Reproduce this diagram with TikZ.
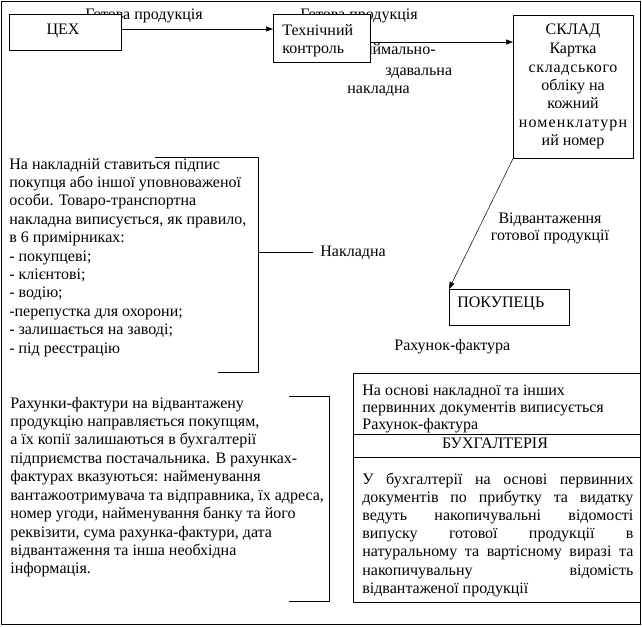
\documentclass[tikz,border=0pt]{standalone}
\usepackage{fontspec}
\setmainfont{Liberation Serif}
\newfontfamily\tnr{Liberation Serif}
\newfontfamily\tnrspa[LetterSpace=4.5]{Liberation Serif}
\newfontfamily\tnrspb[LetterSpace=7]{Liberation Serif}
\usetikzlibrary{arrows.meta}
\newcommand\myfs{\tnr\fontsize{16}{18}\selectfont}
\begin{document}
\begin{tikzpicture}[x=1pt,y=-1pt,line width=0.7pt,
  txt/.style={inner sep=0pt,anchor=base west,font=\myfs},
  txtc/.style={inner sep=0pt,anchor=base,font=\myfs},
  txte/.style={inner sep=0pt,anchor=base east,font=\myfs},
  box/.style={draw,fill=white,inner sep=0pt},
  arr/.style={-{Triangle[length=7pt,width=5pt]}}]
\useasboundingbox (0,0) rectangle (642,626);
\draw (1,1) rectangle (640,624);
% labels behind boxes
\node[txte] (gp1) at (203,20) {Готова продукція};
\node[txte] (gp2) at (418,20) {Готова продукція};
\node[txte] (pz1) at (436,55) {Приймально-};
\node[txt] (pz2) at (385,75) {здавальна};
\node[txt] (pz3) at (347,93) {накладна};
% boxes
\node[box,minimum width=112pt,minimum height=36pt,anchor=north west] (ceh) at (9,14) {};
\node[txtc] (cehT) at (63,35) {ЦЕХ};
\node[box,minimum width=97pt,minimum height=48pt,anchor=north west] (tech) at (273,14) {};
\node[txt] (tech1) at (282,36) {Технічний};
\node[txt] (tech2) at (282,53) {контроль};
\node[box,minimum width=120pt,minimum height=143pt,anchor=north west] (sklad) at (513,15) {};
\foreach \t/\y [count=\i] in {СКЛАД/35,Картка/53,{\tnrspa складського}/72,обліку на/90,кожний/108,{\tnrspb номенклатурн}/127,ий номер/145}
  \node[txtc] (sk\i) at (573,\y) {\t};
\node[box,minimum width=120pt,minimum height=36pt,anchor=north west] (pok) at (449,289) {};
\node[txt] (pokt) at (457,307) {ПОКУПЕЦЬ};
% connectors
\draw[arr] (ceh.east |- 0,29) coordinate (a1) -- (tech.west |- a1);
\draw[arr] (tech.east |- 0,42) coordinate (a2) -- (sklad.west |- a2);
\draw[arr,line width=0.5pt] (sklad.south west) -- (pok.north west);
\node[txtc] (vid1) at (550,223) {Відвантаження};
\node[txtc] (vid2) at (550,240) {готової продукції};
% left block
\foreach \t [count=\i] in {{На накладній ставиться підпис},{покупця або іншої уповноваженої},{особи. Товаро-транспортна},{накладна виписується, як правило,},{в 6 примірниках:},{- покупцеві;},{- клієнтові;},{- водію;},{-перепустка для охорони;},{- залишається на заводі;},{- під реєстрацію}}
  \node[txt] (lb\i) at (9,{169+18.4*(\i-1)}) {\t};
\coordinate (br1) at (155,157);
\coordinate (br2) at (258,157);
\coordinate (br3) at (258,372);
\coordinate (br4) at (218,372);
\draw (br1) -- (br2) -- (br3) -- (br4);
\node[txt] (nakl) at (320,256) {Накладна};
\draw (258,252) coordinate (m1) -- (313,252) coordinate (m2);
\node[txt] (rf) at (394,350) {Рахунок-фактура};
% bottom left block
\foreach \t [count=\i] in {{Рахунки-фактури на відвантажену},{продукцію направляється покупцям,},{а їх копії залишаються в бухгалтерії},{підприємства постачальника. В рахунках-},{фактурах вказуються:  найменування},{вантажоотримувача та відправника, їх адреса,},{номер угоди, найменування банку та його},{реквізити, сума рахунка-фактури, дата},{відвантаження та інша необхідна},{інформація.}}
  \node[txt] (bl\i) at (10,{408+18.44*(\i-1)}) {\t};
\draw (289,396) coordinate (c1) -- (329,396) coordinate (c2) -- (329,601) coordinate (c3) -- (289,601) coordinate (c4);
% bottom right box
\coordinate (bx1) at (353,373);
\coordinate (bx2) at (640,602);
\draw (bx1) rectangle (bx2);
\draw (353,434) -- (640,434);
\draw (353,457) -- (640,457);
\node[txt] (r1) at (362,395) {На основі накладної та інших};
\node[txt] (r2) at (362,412.5) {первинних документів виписується};
\node[txt] (r3) at (362,429.5) {Рахунок-фактура};
\node[txtc] (buh) at (495,448) {БУХГАЛТЕРІЯ};
\foreach \t [count=\i] in {{У бухгалтерії на основі первинних},{документів по прибутку та видатку},{ведуть накопичувальні відомості},{випуску готової продукції в},{натуральному та вартісному виразі та},{накопичувальну відомість}}
  \node[txt] (j\i) at (362,{484+18.2*(\i-1)}) {\makebox[271pt][s]{\t}};
\node[txt] (j7) at (362,593) {відвантаженої продукції};
\end{tikzpicture}
\end{document}
